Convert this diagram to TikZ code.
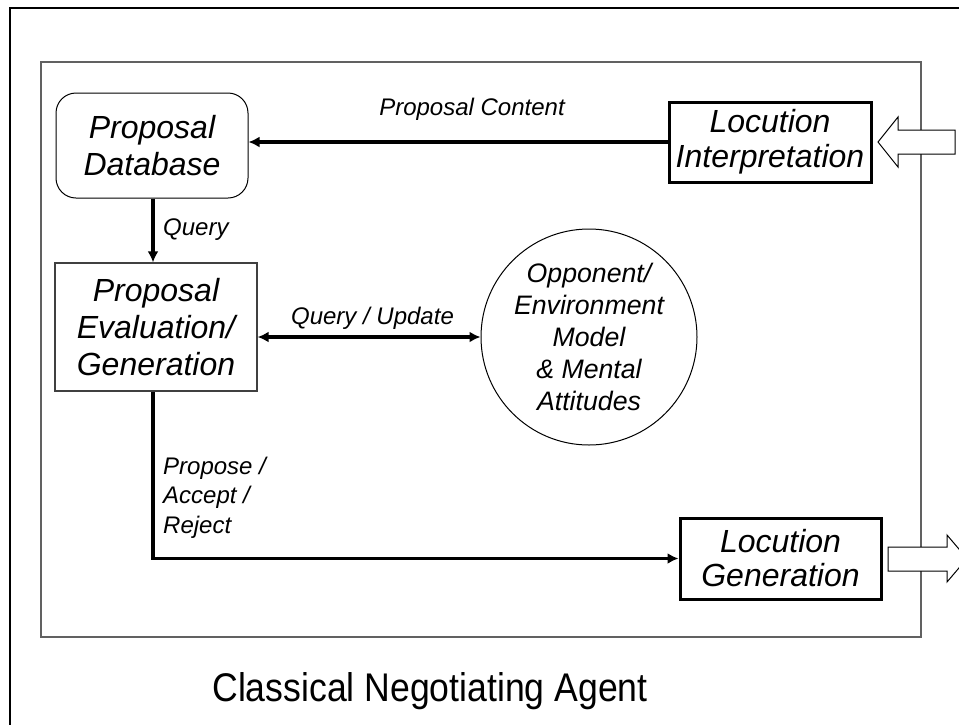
\documentclass[tikz,border=0pt]{standalone}
\usepackage{fontspec}
\setmainfont{Liberation Sans}
\usetikzlibrary{arrows.meta,calc}
\begin{document}
\begin{tikzpicture}[x=1pt,y=-1pt,
  bigtxt/.style={font=\fontsize{32}{37}\selectfont\itshape, align=center, inner sep=0pt},
  lbl/.style={font=\fontsize{24}{29.5}\selectfont\itshape, inner sep=0pt},
  thickbox/.style={draw=black, line width=3pt, fill=white, bigtxt},
  conn/.style={line width=3.5pt, -{Latex[length=11pt,width=11pt]}},
  blockarrow/.style={draw=black, line width=1pt, fill=white, line join=miter}]
\useasboundingbox (0,0) rectangle (959,724);
\clip (0,0) rectangle (959,724);
\fill[white] (0,0) rectangle (959,724);
% outer frame
\draw[line width=2.7pt] (10,8) rectangle (1000,1000);
% inner frame
\draw[line width=2pt, draw=black!62] (41,62) rectangle (921,637);
% nodes
\node[draw=black, line width=1pt, rounded corners=20pt, minimum width=192pt, minimum height=105pt, bigtxt, text width=190pt] (db) at (152,145.5) {Proposal\\Database};
\node[thickbox, minimum width=202pt, minimum height=80pt, font=\fontsize{32}{35}\selectfont\itshape] (li) at (770,142) {Locution\\Interpretation};
\node[draw=black!75, line width=1.3pt, minimum width=202pt, minimum height=128pt, bigtxt] (ev) at (156,327) {Proposal\\Evaluation/\\Generation};
\node[draw=black, line width=1pt, circle, minimum size=216pt, inner sep=0pt, align=center, font=\fontsize{26.7}{32}\selectfont\itshape] (om) at (589,337) {Opponent/\\Environment\\Model\\\& Mental\\Attitudes};
\node[thickbox, minimum width=201pt, minimum height=81pt, font=\fontsize{32}{34}\selectfont\itshape] (lg) at (780.5,558.5) {Locution\\Generation};
% connectors
\draw[conn] (li.west) -- (li.west -| db.east);
\draw[conn] (db.south -| 153,0) -- (ev.north -| 153,0);
\draw[line width=3.5pt, {Latex[length=11pt,width=11pt]}-{Latex[length=11pt,width=11pt]}] (om.west -| ev.east) -- (om.west);
\draw[conn] (ev.south -| 153,0) |- (lg.west);
% labels
\node[lbl, anchor=base] (lpc) at (472,115) {Proposal Content};
\node[lbl, anchor=base west] (lq) at (163,235) {Query};
\node[lbl, anchor=base] (lqu) at (372.5,324) {Query / Update};
\node[lbl, anchor=base west, align=left] (lpar) at (163,533) {Propose /\\Accept /\\Reject};
% block arrows
\draw[blockarrow] (955,130) -- (898,130) -- (898,117) -- (878,142) -- (898,167) -- (898,154) -- (955,154) -- cycle;
\draw[blockarrow] (888,547) -- (947,547) -- (947,535) -- (967,558.5) -- (947,582) -- (947,571) -- (888,571) -- cycle;
% title
\node[inner sep=0pt, font=\fontsize{40}{48}\selectfont, anchor=base, xscale=0.89, transform shape] (title) at (430,701) {Classical Negotiating Agent};
\end{tikzpicture}
\end{document}
